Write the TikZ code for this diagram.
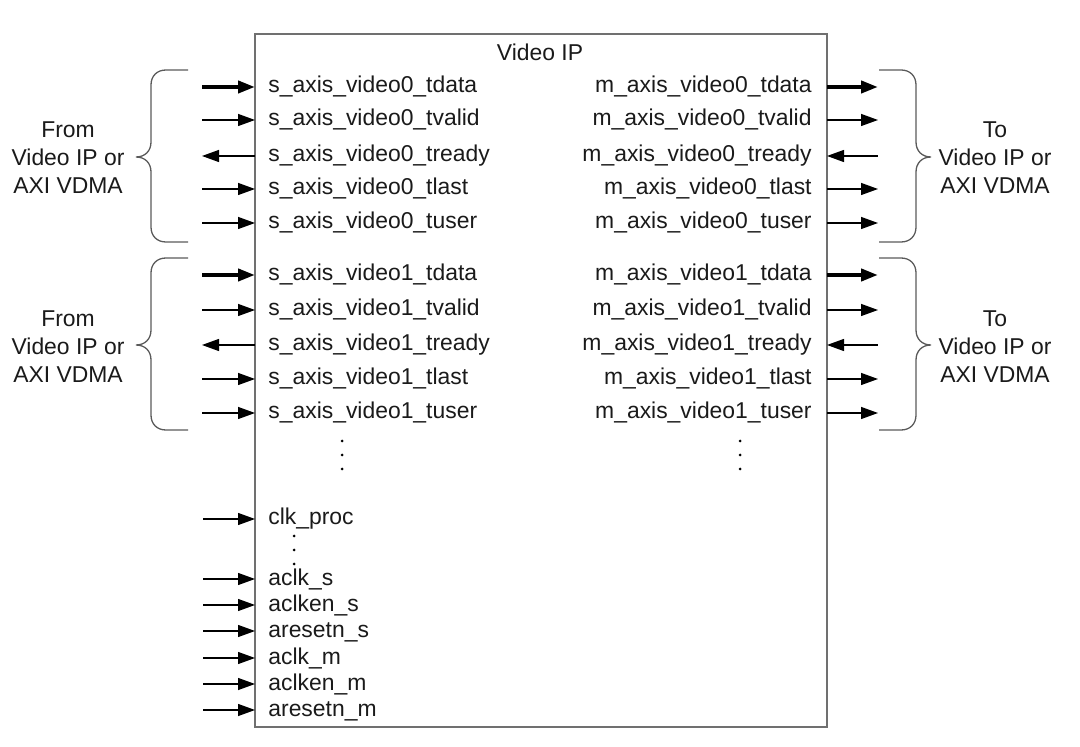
\documentclass[tikz,border=0pt]{standalone}
\usepackage{fontspec}
\setmainfont{Liberation Sans}
\usetikzlibrary{arrows.meta}
\definecolor{boxgray}{HTML}{707070}
\definecolor{bracegray}{HTML}{5A5A5A}
\definecolor{txt}{HTML}{1A1A1A}
\begin{document}
\begin{tikzpicture}[x=0.5pt,y=-0.5pt,
  lbl/.style={font=\fontsize{11.45}{14}\selectfont, text=txt, inner sep=0pt},
  sigin/.style={line width=0.65pt, draw=black, -{Triangle[length=8.5pt,width=6pt]}},
  busin/.style={line width=2pt, draw=black, -{Triangle[length=8.5pt,width=6pt]}},
  sigout/.style={line width=0.65pt, draw=black, {Triangle[length=8.5pt,width=6pt]}-},
  bracestyle/.style={draw=bracegray, line width=0.65pt},
  lbr/.pic={\draw[bracestyle] (52,-87) -- (30,-87) .. controls (21,-87) and (15,-81) .. (15,-72) -- (15,-15) .. controls (15,-6) and (9,0) .. (0,0) .. controls (9,0) and (15,6) .. (15,15) -- (15,70) .. controls (15,79) and (21,85) .. (30,85) -- (52,85);},
  dot/.style={fill=black}
]
\useasboundingbox (0,0) rectangle (1080,747);
% box
\draw[draw=boxgray, line width=0.75pt] (255,34) rectangle (827,727);
\node[lbl] (title) at (540,52) {Video IP};

% stream signals
\foreach \y/\n/\t/\st [count=\i] in {
  87/0/tdata/busin, 120/0/tvalid/sigin, 156/0/tready/sigout, 189/0/tlast/sigin, 223/0/tuser/sigin,
  275/1/tdata/busin, 310/1/tvalid/sigin, 345/1/tready/sigout, 379/1/tlast/sigin, 413/1/tuser/sigin}{
  \node[lbl, anchor=base west] (s\i) at (268,\y+6) {s\_axis\_video\n\_\t};
  \node[lbl, anchor=base east] (m\i) at (812,\y+6) {m\_axis\_video\n\_\t};
  \coordinate (sa\i) at (202,\y);
  \coordinate (sb\i) at (255,\y);
  \coordinate (ma\i) at (827,\y);
  \coordinate (mb\i) at (878,\y);
  \draw[\st] (sa\i) -- (sb\i);
  \draw[\st] (ma\i) -- (mb\i);
}

% control signals
\foreach \y/\t [count=\i] in {519/clk\_proc, 579/aclk\_s, 605/aclken\_s, 631/aresetn\_s, 658/aclk\_m, 684/aclken\_m, 710/aresetn\_m}{
  \node[lbl, anchor=base west] (c\i) at (268,\y+6) {\t};
  \coordinate (ca\i) at (203,\y);
  \coordinate (cb\i) at (255,\y);
  \draw[sigin] (ca\i) -- (cb\i);
}

% dots
\foreach \yy in {441,455,469}{
  \fill[dot] (342,\yy) circle[radius=0.75pt];
  \fill[dot] (740,\yy) circle[radius=0.75pt];
}
\foreach \yy in {536,550,564}{
  \fill[dot] (294,\yy) circle[radius=0.75pt];
}

% braces
\pic at (136,157) {lbr};
\pic at (136,345) {lbr};
\pic[xscale=-1] at (931,157) {lbr};
\pic[xscale=-1] at (931,345) {lbr};

% group labels
\node[lbl, align=center] (from0) at (68,158) {From\\Video IP or\\AXI VDMA};
\node[lbl, align=center] (from1) at (68,347) {From\\Video IP or\\AXI VDMA};
\node[lbl, align=center] (to0) at (995,158) {To\\Video IP or\\AXI VDMA};
\node[lbl, align=center] (to1) at (995,347) {To\\Video IP or\\AXI VDMA};
\end{tikzpicture}
\end{document}
